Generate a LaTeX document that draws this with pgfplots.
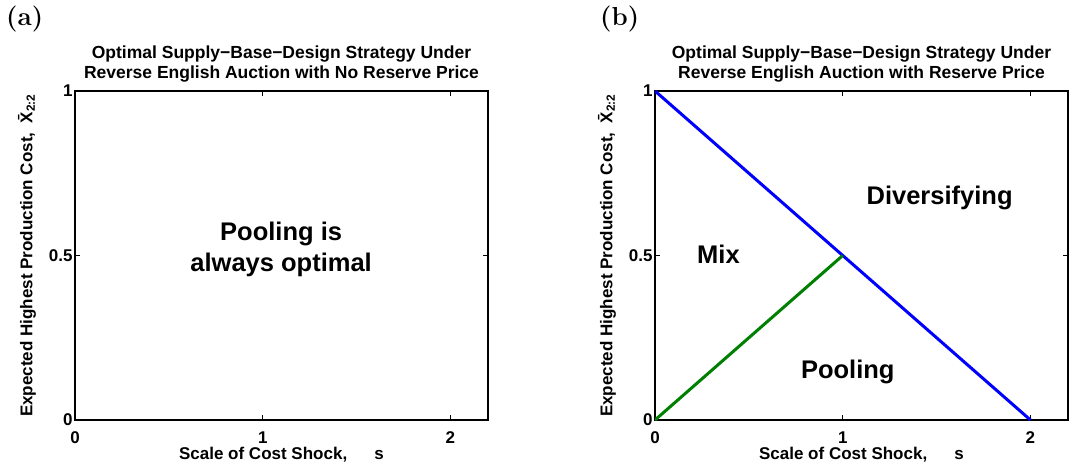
\documentclass[border=0pt]{standalone}
\usepackage{fontspec}
\newfontfamily\arial{Liberation Sans}
\usepackage{pgfplots}
\pgfplotsset{compat=1.18}
\definecolor{mgreen}{rgb}{0,0.5,0}
\tikzset{ann/.style={font=\arial\bfseries\fontsize{25.5}{31}\selectfont, align=center}}
\begin{document}
\begin{tikzpicture}
\path[use as bounding box] (0pt,0pt) rectangle (1070pt,466pt);
\pgfplotsset{
  panel/.style={
    scale only axis, width=413pt, height=329pt,
    xmin=0, xmax=2.2, ymin=0, ymax=1,
    xtick={0,1,2}, ytick={0,0.5,1},
    tick align=inside, major tick length=5pt,
    axis line style={line width=1.1pt}, every tick/.style={line width=0.6pt},
    /pgf/number format/assume math mode=true,
    ticklabel style={font=\arial\bfseries\fontsize{17}{17}\selectfont},
    xticklabel style={yshift=-8pt},
    yticklabel style={xshift=1pt},
    label style={font=\arial\bfseries\fontsize{17}{19}\selectfont},
    xlabel={Scale of Cost Shock,\hspace{1.6em}s},
    ylabel={Expected Highest Production Cost,\ \ \={X}\textsubscript{2:2}},
    xlabel style={yshift=3pt},
    ylabel style={yshift=6pt},
    title style={font=\arial\bfseries\fontsize{17.5}{20}\selectfont, align=center, yshift=-1pt},
  },
}
\begin{axis}[panel, at={(75pt,46pt)}, anchor=south west,
  title={Optimal Supply−Base−Design Strategy Under\\ Reverse English Auction with No Reserve Price}]
\node[ann] at (axis cs:1.098,0.517) {Pooling is\\always optimal};
\end{axis}
\node[anchor=north west, inner sep=0pt, font=\bfseries\fontsize{26}{30}\selectfont] at (6pt,460pt) {(a)};
\begin{axis}[panel, at={(655pt,46pt)}, anchor=south west,
  title={Optimal Supply−Base−Design Strategy Under\\ Reverse English Auction with Reserve Price}]
\addplot[blue, line width=3pt] coordinates {(0,1) (2,0)};
\addplot[mgreen, line width=3pt] coordinates {(0,0) (1,0.5)};
\node[ann] at (axis cs:1.516,0.676) {Diversifying};
\node[ann] at (axis cs:0.338,0.505) {Mix};
\node[ann] at (axis cs:1.027,0.147) {Pooling};
\end{axis}
\node[anchor=north west, inner sep=0pt, font=\bfseries\fontsize{26}{30}\selectfont] at (600pt,460pt) {(b)};
\end{tikzpicture}
\end{document}
